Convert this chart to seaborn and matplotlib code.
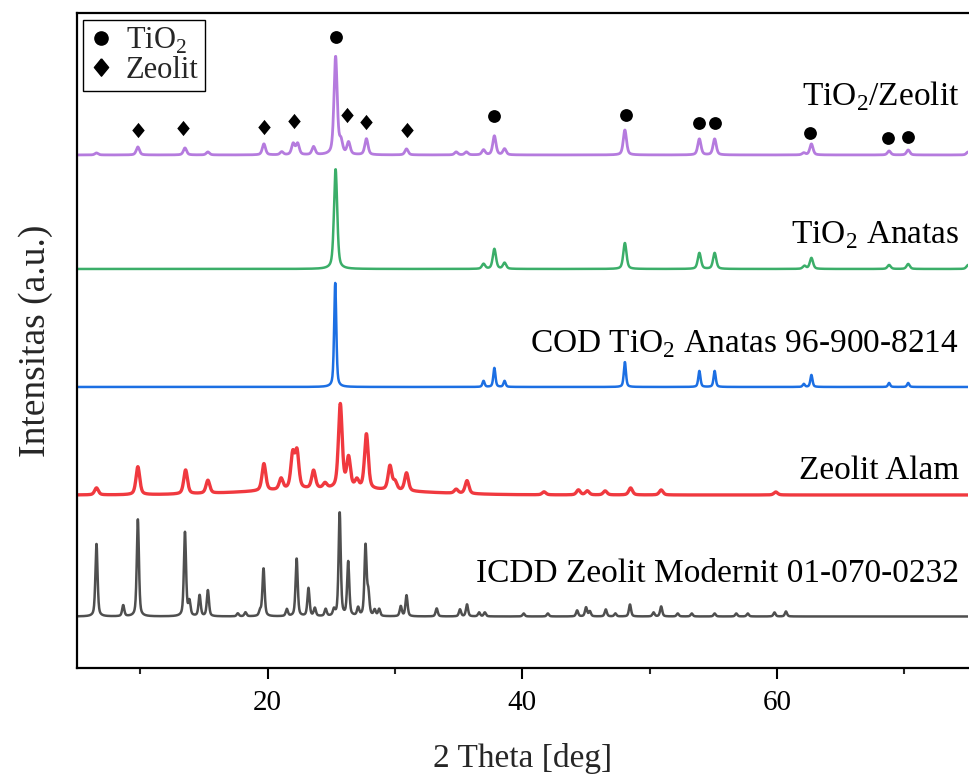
"""
Pola XRD: TiO2/Zeolit, TiO2 Anatas, referensi COD, Zeolit Alam, referensi ICDD
"""
import numpy as np
import pandas as pd
import matplotlib
matplotlib.use("Agg")
import matplotlib.pyplot as plt
import seaborn as sns
from matplotlib.lines import Line2D

# sumbu 2 theta (grid pengukuran)
two_theta = np.arange(5.0, 75.0001, 0.02)

# posisi puncak [deg], tinggi puncak [a.u.] tiap pola
tz_pos = [6.55, 9.8, 13.5, 15.3, 19.7, 21.1, 22.0, 22.35, 23.6, 25.33, 25.75, 26.35,
          27.75, 30.9, 34.8, 35.6, 36.95, 37.8, 38.6, 48.05, 53.9, 55.1, 62.1, 62.7,
          68.8, 70.3, 75.0]
tz_int = [2, 8, 7, 3, 11, 3, 11, 11, 8, 98, 12, 12,
          16, 6, 3, 3, 5, 19, 6, 25, 16, 16, 2, 11,
          4, 5, 3]

an_pos = [25.33, 36.95, 37.8, 38.6, 48.05, 53.9, 55.1, 62.15, 62.7, 68.8, 70.3, 75.0]
an_int = [100, 5, 20, 6, 26, 16, 16, 3, 11, 4, 5, 4]

cod_pos = [25.3, 36.95, 37.8, 38.6, 48.05, 53.9, 55.1, 62.1, 62.7, 68.8, 70.3]
cod_int = [104, 6, 19, 6, 25, 16, 16, 3, 12, 4, 4]

za_pos = [6.55, 9.8, 13.55, 15.3, 19.7, 21.05, 21.96, 22.3, 23.6, 24.5, 25.7, 26.35,
          27.0, 27.75, 29.6, 30.0, 30.9, 34.8, 35.65, 41.7, 44.4, 45.1, 46.5, 48.5,
          50.9, 59.9]
za_int = [7, 28, 24, 13, 27, 11, 34, 36, 18, 5, 84, 30,
          8, 55, 24, 8, 18, 4, 13, 3, 5, 4, 4, 7,
          5, 3]

icdd_pos = [6.55, 8.65, 9.8, 13.5, 13.85, 14.65, 15.3, 17.65, 18.25, 19.4, 19.67, 21.5,
            22.27, 23.2, 23.7, 24.55, 25.2, 25.65, 26.32, 27.1, 27.68, 27.9, 28.4, 28.75,
            30.45, 30.9, 33.27, 35.1, 35.65, 36.6, 37.05, 40.1, 42.0, 44.3, 45.0, 45.3,
            46.55, 47.3, 48.45, 50.3, 50.9, 52.2, 53.3, 55.1, 56.8, 57.7, 59.8, 60.7]
icdd_int = [73, 11, 97, 84, 14, 21, 26, 3, 4, 5, 48, 7,
            58, 28, 8, 7, 6, 104, 54, 8, 70, 22, 6, 7,
            10, 21, 8, 7, 12, 4, 4, 3, 3, 6, 9, 5,
            7, 3, 12, 4, 10, 3, 3, 3, 3, 3, 4, 5]

# pola, offset tumpukan, lebar puncak, warna
names = ["TiO2/Zeolit", "TiO2 Anatas", "COD", "Zeolit Alam", "ICDD"]
offsets = [513, 399, 281, 173, 51.5]
fwhm = [0.3, 0.3, 0.2, 0.35, 0.2]
colors = ["#B57BDE", "#3BAE69", "#1C6FE3", "#F0393F", "#4F4F4F"]
line_w = [2.0, 1.8, 1.8, 2.4, 1.8]

# hump amorf zeolit alam
za_hump = (25.0, 6, 14.0)

# penanda fasa pada pola TiO2/Zeolit
tio2_mark_x = [25.35, 37.8, 48.1, 53.9, 55.1, 62.6, 68.75, 70.25]
tio2_mark_y = [631, 552, 553, 545, 545, 535, 530, 531]
zeo_mark_x = [9.8, 13.35, 19.7, 22.1, 26.2, 27.75, 30.9]
zeo_mark_y = [538, 540, 541, 547, 553, 546, 538]

labels = [r"TiO$_\mathregular{2}$/Zeolit", r"TiO$_\mathregular{2}$ Anatas",
          r"COD TiO$_\mathregular{2}$ Anatas 96-900-8214", "Zeolit Alam",
          "ICDD Zeolit Modernit 01-070-0232"]
label_y = [563, 425, 316, 189, 86]


def pattern(pos, inten, w, eta=0.5):
    y = np.zeros_like(two_theta)
    for p, a in zip(pos, inten):
        d = (two_theta - p) / (w / 2)
        lor = 1 / (1 + d ** 2)
        gau = np.exp(-np.log(2) * d ** 2)
        y += a * (eta * lor + (1 - eta) * gau)
    return y


peaks = [(tz_pos, tz_int), (an_pos, an_int), (cod_pos, cod_int),
         (za_pos, za_int), (icdd_pos, icdd_int)]

frames = []
for i, (pos, inten) in enumerate(peaks):
    y = pattern(pos, inten, fwhm[i]) + offsets[i]
    if names[i] == "Zeolit Alam":
        y += pattern([za_hump[0]], [za_hump[1]], za_hump[2], eta=0.0)
    frames.append(pd.DataFrame({"two_theta": two_theta, "intensitas": y, "pola": names[i]}))
df = pd.concat(frames, ignore_index=True)

sns.set_theme(style="ticks")
plt.rcParams["font.family"] = ["Liberation Serif", "DejaVu Serif"]
plt.rcParams["mathtext.fontset"] = "custom"
plt.rcParams["mathtext.rm"] = "Liberation Serif"

fig = plt.figure(figsize=(9.69, 7.76), dpi=100)
ax = fig.add_axes([0.0792, 0.1392, 0.9198, 0.8441])

for i, name in enumerate(names):
    sns.lineplot(data=df[df["pola"] == name], x="two_theta", y="intensitas",
                 color=colors[i], lw=line_w[i], estimator=None, sort=False, ax=ax)

diamond = [(0, 1), (0.82, 0), (0, -1), (-0.82, 0), (0, 1)]
sns.scatterplot(x=tio2_mark_x, y=tio2_mark_y, marker="o", s=85, color="black",
                linewidth=0, ax=ax, legend=False)
sns.scatterplot(x=zeo_mark_x, y=zeo_mark_y, marker=diamond, s=120, color="black",
                linewidth=0, ax=ax, legend=False)

for lab, ly in zip(labels, label_y):
    ax.text(74.3, ly, lab, ha="right", va="baseline", fontsize=24, color="black")

ax.set_xlim(5, 75)
ax.set_ylim(0, 655)
ax.set_xticks([20, 40, 60])
ax.set_xticks([10, 30, 50, 70], minor=True)
ax.set_yticks([])
ax.tick_params(axis="x", which="major", direction="out", length=8, width=1.5,
               labelsize=21, pad=8, colors="black")
ax.tick_params(axis="x", which="minor", direction="out", length=4, width=1.5)
ax.set_xlabel("2 Theta [deg]", fontsize=24, labelpad=19)
ax.set_ylabel("Intensitas (a.u.)", fontsize=27, labelpad=17)

for side in ["left", "bottom", "top"]:
    ax.spines[side].set_linewidth(1.6)
    ax.spines[side].set_color("black")
ax.spines["right"].set_visible(False)

handles = [
    Line2D([], [], ls="none", marker="o", ms=9.5, color="black", label=r"TiO$_\mathregular{2}$"),
    Line2D([], [], ls="none", marker=diamond, ms=12.5, color="black", label="Zeolit"),
]
leg = ax.legend(handles=handles, loc="upper left", bbox_to_anchor=(0.007, 0.99),
                fontsize=22, frameon=True, fancybox=False, framealpha=1,
                edgecolor="black", handlelength=0.8, handletextpad=0.4,
                borderpad=0.2, labelspacing=0.0, borderaxespad=0)
leg.get_frame().set_linewidth(1.0)

fig.savefig("out.png", dpi=100)
